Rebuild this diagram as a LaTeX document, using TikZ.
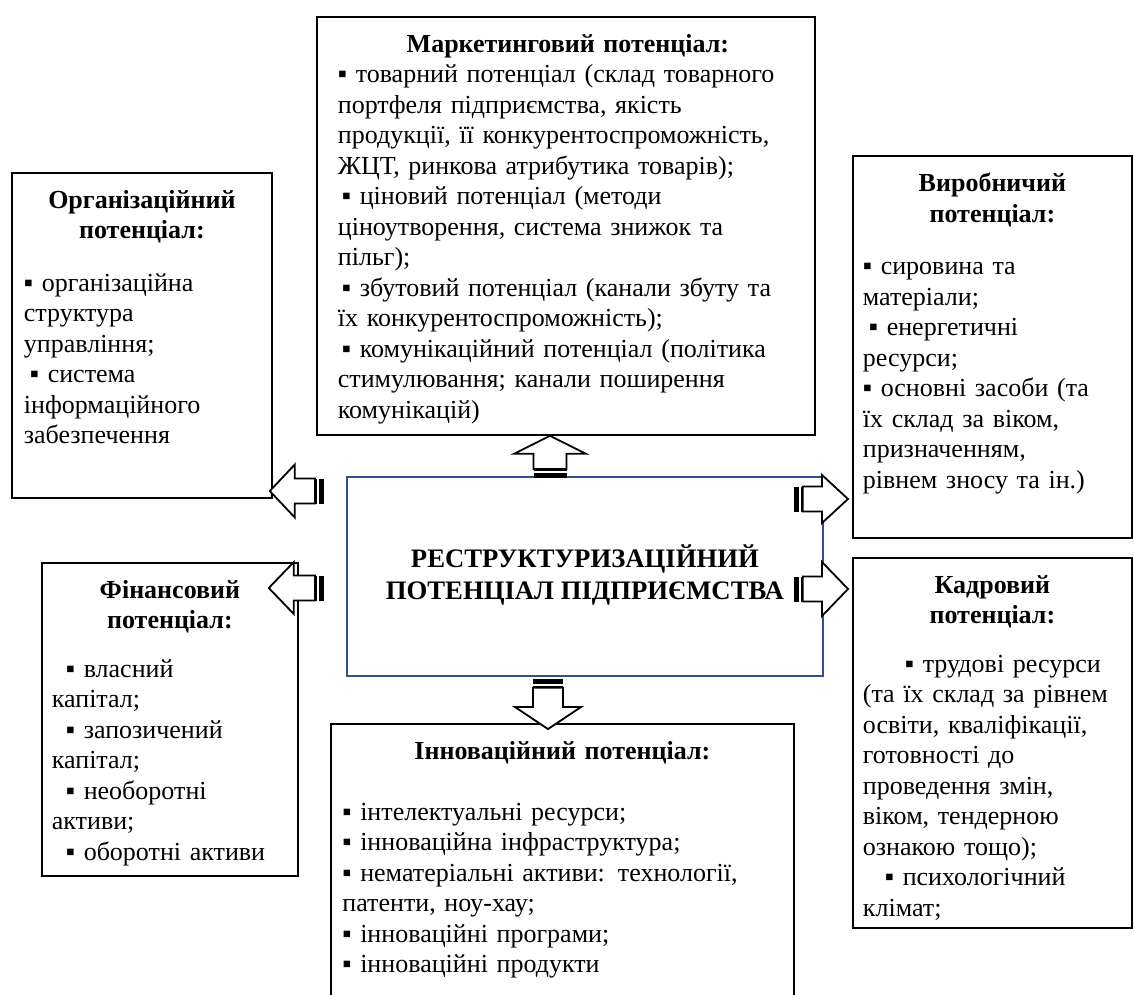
\documentclass[tikz,border=0pt]{standalone}
\usepackage{fontspec}
\setmainfont{Liberation Serif}
\usetikzlibrary{calc}
\definecolor{frameblue}{RGB}{47,82,143}
\newcommand{\stripedarrow}[5]{% from, to, half shaft, half head, head length
  \path let \p1=#1, \p2=#2 in \pgfextra{%
    \pgfmathsetmacro\sarrowang{atan2(\y2-\y1,\x2-\x1)}%
    \pgfmathsetmacro\sarrowlen{veclen(\x2-\x1,\y2-\y1)}%
    \xdef\sarrowang{\sarrowang}\xdef\sarrowlen{\sarrowlen}};
  \begin{scope}[shift={#1}, rotate=\sarrowang]
    \fill (0,-#3) rectangle (5,#3);
    \fill (7,-#3) rectangle (9,#3);
    \draw[fill=white, line width=1.8pt, line join=miter]
      (9,-#3) -- ({\sarrowlen-#5},-#3) -- ({\sarrowlen-#5},-#4)
      -- (\sarrowlen,0) -- ({\sarrowlen-#5},#4) -- ({\sarrowlen-#5},#3)
      -- (9,#3) -- cycle;
  \end{scope}
}
\tikzset{
  frame/.style={draw, line width=1.8pt, anchor=north west, inner sep=0pt},
  body/.style={anchor=north, inner sep=0pt, align=left,
    font=\fontsize{26}{30.5}\selectfont},
}

\begin{document}
\begin{tikzpicture}[x=1pt, y=1pt]
  \useasboundingbox (0,0) rectangle (1134,-994);

  % boxes
  \node[frame, minimum width=498pt, minimum height=418pt] (mkt) at (316,-16) {};
  \node[frame, minimum width=260pt, minimum height=325pt] (org) at (11,-172) {};
  \node[frame, minimum width=279pt, minimum height=382pt] (prod) at (852,-155) {};
  \node[frame, draw=frameblue, minimum width=476pt, minimum height=199pt] (centre) at (346,-476) {};
  \node[frame, minimum width=256pt, minimum height=313pt] (fin) at (41,-562) {};
  \node[frame, minimum width=279pt, minimum height=370pt] (kadr) at (852,-557) {};
  \node[frame, minimum width=463pt, minimum height=300pt] (innov) at (330,-723) {};

  % texts
  \node[body, text width=460pt] (mkttext) at ([xshift=2pt,yshift=-18pt]mkt.north) {%
    \centering\textbf{Маркетинговий потенціал:}\par
    \raggedright ▪ товарний потенціал (склад товарного\\
    портфеля підприємства, якість\\
    продукції, її конкурентоспроможність,\\
    ЖЦТ, ринкова атрибутика товарів);\\
    \hspace*{4pt}▪ ціновий потенціал (методи\\
    ціноутворення, система знижок та\\
    пільг);\\
    \hspace*{4pt}▪ збутовий потенціал (канали збуту та\\
    їх конкурентоспроможність);\\
    \hspace*{4pt}▪ комунікаційний потенціал (політика\\
    стимулювання; канали поширення\\
    комунікацій)};
  \node[body, text width=236pt] (orgtext) at ([yshift=-18pt]org.north) {%
    \centering\textbf{Організаційний\\потенціал:}\par\vspace{22pt}
    \raggedright ▪ організаційна\\
    структура\\
    управління;\\
    \hspace*{6pt}▪ система\\
    інформаційного\\
    забезпечення};
  \node[body, text width=259pt] (prodtext) at ([yshift=-18pt]prod.north) {%
    \centering\textbf{Виробничий\\потенціал:}\par\vspace{22pt}
    \raggedright ▪ сировина та\\
    матеріали;\\
    \hspace*{6pt}▪ енергетичні\\
    ресурси;\\
    ▪ основні засоби (та\\
    їх склад за віком,\\
    призначенням,\\
    рівнем зносу та ін.)};
  \node[body, text width=236pt] (fintext) at ([yshift=-18pt]fin.north) {%
    \centering\textbf{Фінансовий\\потенціал:}\par\vspace{18pt}
    \raggedright\hspace*{14pt}▪ власний\\
    капітал;\\
    \hspace*{14pt}▪ запозичений\\
    капітал;\\
    \hspace*{14pt}▪ необоротні\\
    активи;\\
    \hspace*{14pt}▪ оборотні активи};
  \node[body, text width=259pt] (kadrtext) at ([yshift=-18pt]kadr.north) {%
    \centering\textbf{Кадровий\\потенціал:}\par\vspace{18pt}
    \raggedright\hspace*{42pt}▪ трудові ресурси\\
    (та їх склад за рівнем\\
    освіти, кваліфікації,\\
    готовності до\\
    проведення змін,\\
    віком, тендерною\\
    ознакою тощо);\\
    \hspace*{22pt}▪ психологічний\\
    клімат;};
  \node[body, text width=440pt] (innovtext) at ([yshift=-18pt]innov.north) {%
    \centering\textbf{Інноваційний потенціал:}\par\vspace{30.5pt}
    \raggedright ▪ інтелектуальні ресурси;\\
    ▪ інноваційна інфраструктура;\\
    ▪ нематеріальні активи: технології,\\
    патенти, ноу-хау;\\
    ▪ інноваційні програми;\\
    ▪ інноваційні продукти};
  \node[body, anchor=center, align=center, font=\fontsize{26.7}{32}\selectfont\bfseries]
    (centretext) at ([yshift=1pt]centre.center)
    {РЕСТРУКТУРИЗАЦІЙНИЙ\\ПОТЕНЦІАЛ ПІДПРИЄМСТВА};

  % arrows
  \stripedarrow{($(centre.north west)+(-22,-15)$)}{($(org.east |- centre.north)+(-3,-15)$)}{12.5}{26.5}{25}
  \stripedarrow{($(centre.north west)+(-22,-112)$)}{($(fin.east |- centre.north)+(-30,-112)$)}{12.5}{26}{25}
  \stripedarrow{($(centre.north east)+(-30,-23)$)}{($(prod.west |- centre.north)+(-4,-23)$)}{12.5}{24}{26}
  \stripedarrow{($(centre.north east)+(-30,-113)$)}{($(kadr.west |- centre.north)+(-4,-113)$)}{12.5}{27}{26}
  \stripedarrow{($(centre.north west)+(204,-2)$)}{($(mkt.south west)+(234,0)$)}{16.5}{36}{18}
  \stripedarrow{($(centre.south west)+(202,-2)$)}{($(innov.north west)+(218,-6)$)}{15}{33}{22}
\end{tikzpicture}
\end{document}
